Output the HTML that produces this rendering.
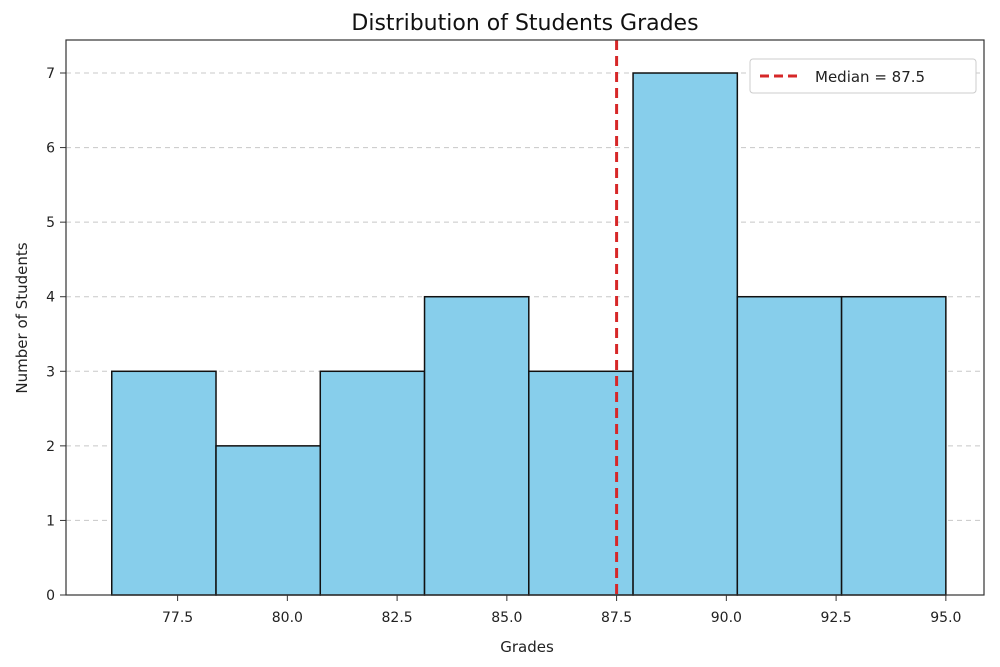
<!DOCTYPE html>
<html><head><meta charset="utf-8"><style>
body{margin:0;background:#fff;}
svg{display:block;font-family:"DejaVu Sans","Liberation Sans",sans-serif;}
</style></head><body>
<svg id="chart" width="1000" height="667" viewBox="0 0 1000 667">
<text x="525" y="30" font-size="22" text-anchor="middle" fill="#111">Distribution of Students Grades</text>
<g id="grid"></g><g id="bars"></g><g id="axes"></g>
<text x="527" y="652" font-size="15" text-anchor="middle" fill="#222">Grades</text>
<text transform="translate(27,318) rotate(-90)" font-size="15" text-anchor="middle" fill="#222">Number of Students</text>
<g>
<rect x="750" y="59" width="226" height="34" fill="#fff" stroke="#ccc" rx="3"/>
<line x1="760" y1="76" x2="800" y2="76" stroke="#d62728" stroke-width="3" stroke-dasharray="9,5"/>
<text x="815" y="82" font-size="15" fill="#222">Median = 87.5</text>
</g>
</svg>
<script>
const binStart = 76;
const binWidth = 2.375;
const counts = [3, 2, 3, 4, 3, 7, 4, 4];
const xTicks = [77.5, 80.0, 82.5, 85.0, 87.5, 90.0, 92.5, 95.0];
const yTicks = [0, 1, 2, 3, 4, 5, 6, 7];
const median = [87.5];
const NS = "http://www.w3.org/2000/svg";
const X = v => 177.6 + (v - 77.5) * 43.9;
const Y = v => 595 - v * 74.57;
function mk(tag, attrs, parent){const e=document.createElementNS(NS,tag);for(const k in attrs)e.setAttribute(k,attrs[k]);parent.appendChild(e);return e;}
const grid=document.getElementById('grid'),bars=document.getElementById('bars'),axes=document.getElementById('axes');
yTicks.forEach(t=>{
  if(t>0){const g=mk('line',{x1:66,x2:984,y1:Y(t),y2:Y(t),stroke:'#c8c8c8','stroke-dasharray':'5,4'},grid);
  
  }
  mk('line',{x1:60,x2:66,y1:Y(t),y2:Y(t),stroke:'#333'},axes);
  const tx=mk('text',{x:55,y:Y(t)+5,'font-size':14,'text-anchor':'end',fill:'#222'},axes);tx.textContent=t;
  
  
});
counts.forEach((c,i)=>{
  const x0=X(binStart+i*binWidth),x1=X(binStart+(i+1)*binWidth);
  const r=mk('rect',{x:x0,y:Y(c),width:x1-x0,height:Y(0)-Y(c),fill:'#87ceeb',stroke:'#111','stroke-width':1.5},bars);
  
  
});
median.forEach(m=>{
  const l=mk('line',{x1:X(m),x2:X(m),y1:40,y2:595,stroke:'#d62728','stroke-width':3,'stroke-dasharray':'10,6'},bars);
  
  
});
xTicks.forEach(t=>{
  mk('line',{x1:X(t),x2:X(t),y1:595,y2:601,stroke:'#333'},axes);
  const tx=mk('text',{x:X(t),y:622,'font-size':14,'text-anchor':'middle',fill:'#222'},axes);tx.textContent=t.toFixed(1);
  
  
});
const fr=mk('rect',{x:66,y:40,width:918,height:555,fill:'none',stroke:'#333','stroke-width':1.2},axes);


</script>
</body></html>
